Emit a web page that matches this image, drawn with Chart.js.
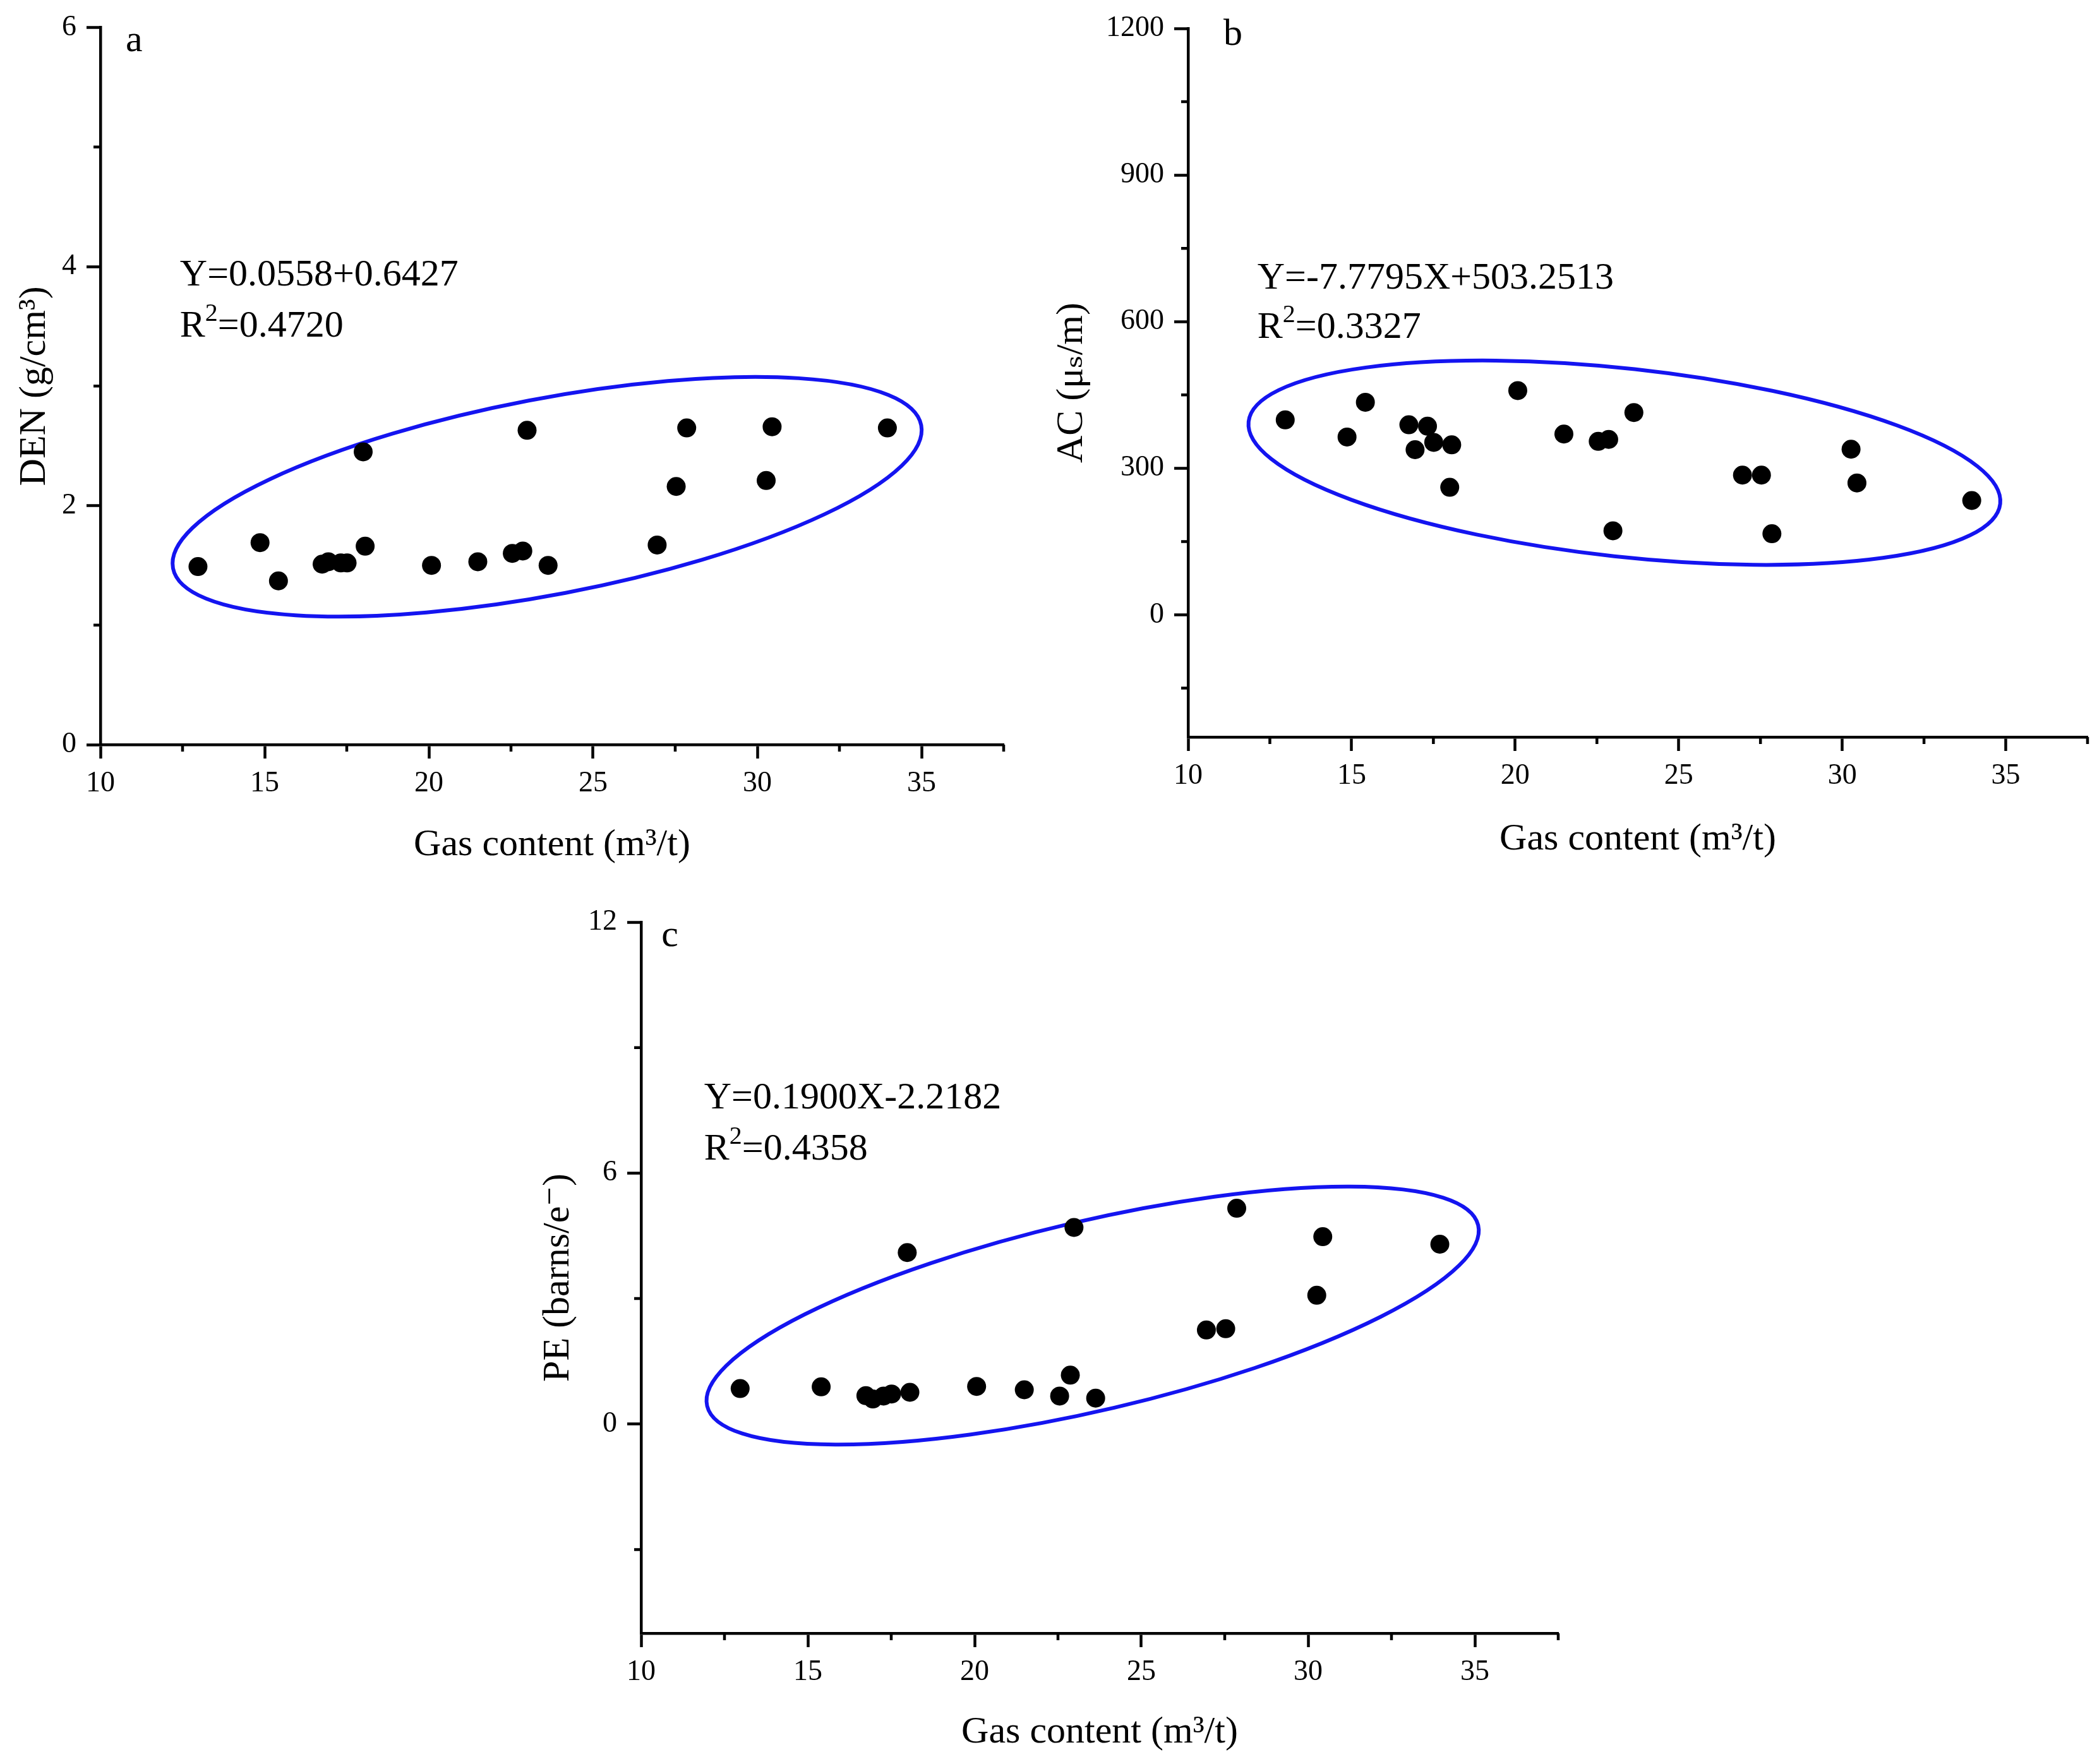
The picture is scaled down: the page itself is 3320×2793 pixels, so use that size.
<!DOCTYPE html>
<html>
<head>
<meta charset="utf-8">
<script src="https://cdn.jsdelivr.net/npm/chart.js@4.4.1/dist/chart.umd.min.js"></script>
<style>
  html, body { margin: 0; padding: 0; background: #fff; }
  body { width: 3320px; height: 2793px; position: relative; overflow: hidden; }
  canvas { position: absolute; }
</style>
</head>
<body>
<canvas id="panelA" width="1660" height="1400" style="left:0px;top:0px;"></canvas>
<canvas id="panelB" width="1660" height="1400" style="left:1660px;top:0px;"></canvas>
<canvas id="panelC" width="1700" height="1393" style="left:800px;top:1400px;"></canvas>
<script>
// gas content of the samples (m3/t)
const gas = [12.97, 14.86, 15.42, 16.75, 16.94, 17.32, 17.51, 18.0, 18.06, 20.08, 21.49,
             22.54, 22.86, 22.99, 23.63, 26.95, 27.53, 27.85, 30.27, 30.45, 33.96];
const den = [1.49, 1.69, 1.37, 1.51, 1.53, 1.52, 1.52, 2.45, 1.66, 1.50, 1.53,
             1.60, 1.62, 2.63, 1.50, 1.67, 2.16, 2.65, 2.21, 2.66, 2.65];
const ac = [399, 364, 435, 389, 338, 386, 353, 261, 348, 459, 370,
            355, 359, 172, 414, 286, 286, 166, 339, 270, 234];
// PE has no value for the 14.86 sample
const gasPE = [12.97, 15.40, 16.74, 16.95, 17.27, 17.51, 17.98, 18.06, 20.06, 21.49,
               22.55, 22.87, 22.98, 23.63, 26.95, 27.53, 27.86, 30.26, 30.44, 33.95];
const pe = [0.85, 0.89, 0.68, 0.60, 0.67, 0.72, 4.10, 0.76, 0.90, 0.82,
            0.67, 1.17, 4.70, 0.62, 2.25, 2.28, 5.16, 3.08, 4.48, 4.30];

// ticks
const xMajor = [10, 15, 20, 25, 30, 35];
const xMinor = [12.5, 17.5, 22.5, 27.5, 32.5, 37.5];
const yMajorA = [0, 2, 4, 6];
const yMinorA = [1, 3, 5];
const yMajorB = [0, 300, 600, 900, 1200];
const yMinorB = [-150, 150, 450, 750, 1050];
const yMajorC = [0, 6, 12];
const yMinorC = [-3, 3, 9];

// fit equations
const eqA = ['Y=0.0558+0.6427', '0.4720'];
const eqB = ['Y=-7.7795X+503.2513', '0.3327'];
const eqC = ['Y=0.1900X-2.2182', '0.4358'];

// ellipses in data units: [centre x, centre y, major end x, major end y, minor/major]
const ringA = [23.6, 2.074, 34.99, 2.672, 0.257];
const ringB = [23.34, 311.4, 34.83, 227.4, 0.249];
const ringC = [23.54, 2.594, 35.10, 4.754, 0.239];

const FONT = "'Liberation Serif', 'Times New Roman', 'DejaVu Serif', serif";
const AXW = 4.5;

// minor ticks, shorter than the major ones
const minorTicks = {
    id: 'minorTicks',
    afterDraw(chart, args, opts) {
        const ctx = chart.ctx;
        const sx = chart.scales.x, sy = chart.scales.y;
        ctx.save();
        ctx.strokeStyle = '#000';
        ctx.lineWidth = AXW;
        ctx.beginPath();
        opts.x.forEach(v => {
            const px = sx.getPixelForValue(v);
            ctx.moveTo(px, sx.top);
            ctx.lineTo(px, sx.top + 11);
        });
        opts.y.forEach(v => {
            const py = sy.getPixelForValue(v);
            ctx.moveTo(sy.right, py);
            ctx.lineTo(sy.right - 11, py);
        });
        ctx.stroke();
        ctx.restore();
    }
};

// blue ring round the points
const ring = {
    id: 'ring',
    beforeDatasetsDraw(chart, args, opts) {
        const r = opts.e;
        const sx = chart.scales.x, sy = chart.scales.y;
        const cx = sx.getPixelForValue(r[0]), cy = sy.getPixelForValue(r[1]);
        const ex = sx.getPixelForValue(r[2]), ey = sy.getPixelForValue(r[3]);
        const a = Math.hypot(ex - cx, ey - cy);
        const ctx = chart.ctx;
        ctx.save();
        ctx.strokeStyle = '#1414f0';
        ctx.lineWidth = 6;
        ctx.beginPath();
        ctx.ellipse(cx, cy, a, a * r[4], Math.atan2(ey - cy, ex - cx), 0, Math.PI * 2);
        ctx.stroke();
        ctx.restore();
    }
};

// panel letter and regression text
const notes = {
    id: 'notes',
    afterDraw(chart, args, opts) {
        const ctx = chart.ctx;
        const sx = chart.scales.x, sy = chart.scales.y;
        ctx.save();
        ctx.fillStyle = '#000';
        ctx.textBaseline = 'alphabetic';
        ctx.textAlign = 'left';
        ctx.font = '60px ' + FONT;
        ctx.fillText(opts.letter[0], sx.getPixelForValue(opts.letter[1]), sy.getPixelForValue(opts.letter[2]));

        const x = sx.getPixelForValue(opts.at[0]);
        ctx.fillText(opts.eq[0], x, sy.getPixelForValue(opts.at[1]));
        // R² line with a raised 2
        const y2 = sy.getPixelForValue(opts.at[2]);
        ctx.fillText('R', x, y2);
        let w = ctx.measureText('R').width;
        ctx.font = '40px ' + FONT;
        ctx.fillText('2', x + w, y2 - 25);
        w += ctx.measureText('2').width;
        ctx.font = '60px ' + FONT;
        ctx.fillText('=' + opts.eq[1], x + w, y2);
        ctx.restore();
    }
};

function buildChart(id, xs, ys, p) {
    const pts = xs.map((v, i) => ({ x: v, y: ys[i] }));
    return new Chart(document.getElementById(id), {
        type: 'scatter',
        data: {
            datasets: [{
                data: pts,
                backgroundColor: '#000',
                borderWidth: 0,
                pointRadius: 15,
                pointHoverRadius: 15
            }]
        },
        options: {
            responsive: false,
            animation: false,
            devicePixelRatio: 1,
            layout: { padding: { left: 0, top: p.padTop, right: p.padRight, bottom: 0 } },
            plugins: {
                legend: { display: false },
                tooltip: { enabled: false },
                minorTicks: { x: xMinor, y: p.yMinor },
                ring: { e: p.ring },
                notes: { letter: p.letter, eq: p.eq, at: p.eqAt }
            },
            scales: {
                x: {
                    type: 'linear',
                    position: 'bottom',
                    min: 10,
                    max: 37.5,
                    afterBuildTicks: s => { s.ticks = xMajor.map(v => ({ value: v })); },
                    afterFit: s => { s.height = p.xH; },
                    grid: { drawOnChartArea: false, tickLength: 22, tickWidth: AXW, tickColor: '#000' },
                    border: { display: true, color: '#000', width: AXW },
                    ticks: {
                        color: '#000', font: { family: FONT, size: 46 }, padding: 12,
                        maxRotation: 0, autoSkip: false, callback: v => String(v)
                    },
                    title: {
                        display: true,
                        text: 'Gas content (m³/t)',
                        color: '#000',
                        font: { family: FONT, size: 60 },
                        padding: { top: 0, bottom: p.xTitlePad }
                    }
                },
                y: {
                    type: 'linear',
                    position: 'left',
                    min: p.yMin,
                    max: p.yMax,
                    afterBuildTicks: s => { s.ticks = p.yMajor.map(v => ({ value: v })); },
                    afterFit: s => { s.width = p.yW; },
                    grid: { drawOnChartArea: false, tickLength: 22, tickWidth: AXW, tickColor: '#000' },
                    border: { display: true, color: '#000', width: AXW },
                    ticks: {
                        color: '#000', font: { family: FONT, size: 46 }, padding: 16,
                        autoSkip: false, callback: v => String(v)
                    },
                    title: {
                        display: true,
                        text: p.yTitle,
                        color: '#000',
                        font: { family: FONT, size: 60 },
                        padding: { top: p.yTitlePad, bottom: 0 }
                    }
                }
            }
        },
        plugins: [ring, minorTicks, notes]
    });
}

buildChart('panelA', gas, den, {
    padTop: 42, padRight: 71, xH: 221, yW: 159, xTitlePad: 26, yTitlePad: 19,
    yMin: 0, yMax: 6, yMajor: yMajorA, yMinor: yMinorA,
    yTitle: 'DEN (g/cm³)', ring: ringA,
    letter: ['a', 10.77, 5.80], eq: eqA, eqAt: [12.42, 3.842, 3.414]
});

buildChart('panelB', gas, ac, {
    padTop: 45, padRight: 14, xH: 233, yW: 221, xTitlePad: 35, yTitlePad: 1,
    yMin: -250, yMax: 1200, yMajor: yMajorB, yMinor: yMinorB,
    yTitle: 'AC (μₛ/m)', ring: ringB,
    letter: ['b', 11.08, 1166], eq: eqB, eqAt: [12.12, 668, 567]
});

buildChart('panelC', gasPE, pe, {
    padTop: 60, padRight: 33, xH: 207, yW: 215, xTitlePad: 14, yTitlePad: 48,
    yMin: -5, yMax: 12, yMajor: yMajorC, yMinor: yMinorC,
    yTitle: 'PE (barns/e⁻)', ring: ringC,
    letter: ['c', 10.61, 11.42], eq: eqC, eqAt: [11.89, 7.54, 6.33]
});
</script>
</body>
</html>
